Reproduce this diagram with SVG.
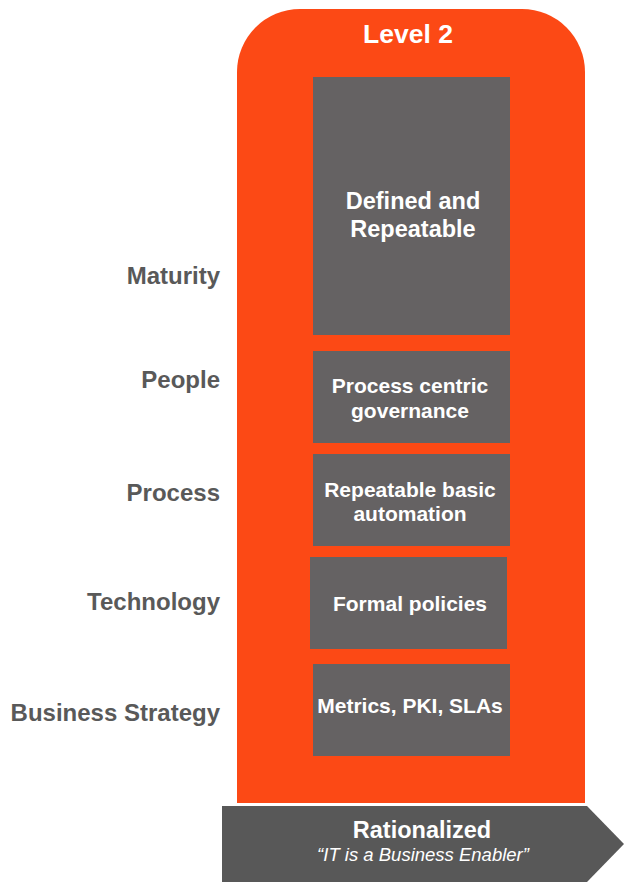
<svg xmlns="http://www.w3.org/2000/svg" width="624" height="882" viewBox="0 0 624 882">
<style>
.col{fill:#FC4915}
.box{fill:#656263}
.lbl{font-family:"Liberation Sans",Arial,sans-serif;font-weight:bold;font-size:24px;fill:#595959;text-anchor:end}
.bt{font-family:"Liberation Sans",Arial,sans-serif;font-weight:bold;font-size:21px;fill:#fff;text-anchor:middle}
.ht{font-family:"Liberation Sans",Arial,sans-serif;font-weight:bold;font-size:23.5px;fill:#fff;text-anchor:middle}
</style>
<rect width="624" height="882" fill="#fff"/>
<g id="column">
<path class="col" d="M237,803 V72 A63,63 0 0 1 300,9 H522 A63,63 0 0 1 585,72 V803 Z"/>
<text class="ht" x="408" y="43" style="font-size:26.5px">Level 2</text>
</g>
<g id="labels">
<text class="lbl" x="220" y="284">Maturity</text>
<text class="lbl" x="220" y="388">People</text>
<text class="lbl" x="220" y="501">Process</text>
<text class="lbl" x="220" y="610">Technology</text>
<text class="lbl" x="220" y="721">Business Strategy</text>
</g>
<g id="maturity">
<rect class="box" x="313" y="77" width="197" height="258"/>
<text class="ht" x="413" y="209">Defined and</text>
<text class="ht" x="413" y="237">Repeatable</text>
</g>
<g id="people">
<rect class="box" x="313" y="351" width="197" height="92"/>
<text class="bt" x="410" y="393">Process centric</text>
<text class="bt" x="410" y="418">governance</text>
</g>
<g id="process">
<rect class="box" x="313" y="454" width="197" height="92"/>
<text class="bt" x="410" y="497">Repeatable basic</text>
<text class="bt" x="410" y="521">automation</text>
</g>
<g id="technology">
<rect class="box" x="310" y="557" width="197" height="92"/>
<text class="bt" x="410" y="611">Formal policies</text>
</g>
<g id="strategy">
<rect class="box" x="313" y="664" width="197" height="92"/>
<text class="bt" x="410" y="713">Metrics, PKI, SLAs</text>
</g>
<g id="rationalized">
<path d="M222,806 H587 L624,844 L587,882 H222 Z" fill="#585858"/>
<text class="ht" x="422" y="838">Rationalized</text>
<text x="423" y="861" style="font-family:'Liberation Sans',Arial,sans-serif;font-style:italic;font-size:18.5px;fill:#fff;text-anchor:middle">“IT is a Business Enabler”</text>
</g>
</svg>
